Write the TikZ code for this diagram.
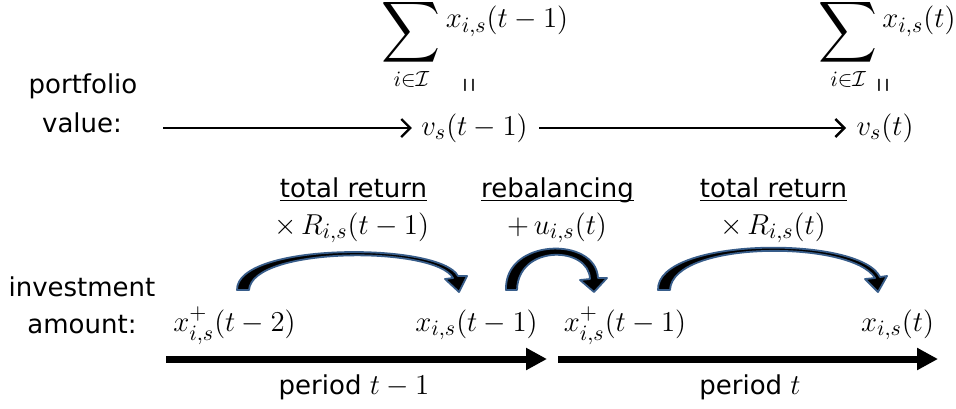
\documentclass[tikz,border=0pt]{standalone}
\usepackage{amsmath}
\usepackage{fontspec}
\newfontfamily\labelfont{DejaVu Sans}
\definecolor{arcedge}{RGB}{56,93,138}
\usetikzlibrary{arrows.meta}
\newcommand{\mathsize}{\fontsize{15.5}{18}\selectfont}
\newcommand{\ulabel}[1]{\underline{\smash{#1}}}
\newcommand{\bigsum}{\mathop{\vcenter{\hbox{\scalebox{1.42}[1.48]{$\displaystyle\sum$}}}}\limits}

\begin{document}
\begin{tikzpicture}[x=0.5pt, y=-0.5pt,
      txt/.style={
          font=\labelfont\fontsize{13}{15}\selectfont,
          inner sep=0pt,
          anchor=base
        },
      mth/.style={font=\mathsize, inner sep=0pt, anchor=base},
      eqsign/.style={font=\fontsize{15}{15}\selectfont, rotate=90, inner sep=0pt},
      valflow/.style={-{Straight Barb[length=4.5pt,width=9pt]}, line width=1.2pt},
      periodflow/.style={-{Triangle[length=10.5pt,width=10.5pt]}, line width=3.5pt},
      bendarrow/.style={fill=black, draw=arcedge, line width=0.9pt, line join=round}
    ]
    \useasboundingbox (0,0) rectangle (956,408);

    % portfolio value row
    \node[txt] (pf1) at (83,93) {portfolio};
    \node[txt] (pf2) at (82,132) {value:};
    \node[mth] (sum1) at (475,40) {$\displaystyle\bigsum_{i\in\mathcal{I}} \raisebox{6.1pt}{$x_{i,s}(t-1)$}$};
    \node[mth] (sum2) at (887,40) {$\displaystyle\bigsum_{i\in\mathcal{I}} \raisebox{6.1pt}{$x_{i,s}(t)$}$};
    \node[eqsign] (eq1) at (472,85) {\scalebox{0.65}[1.5]{$=$}};
    \node[eqsign] (eq2) at (886,85) {\scalebox{0.65}[1.5]{$=$}};
    \node[mth] (v1) at (474.5,135) {$v_s(t-1)$};
    \node[mth] (v2) at (885,135) {$v_s(t)$};
    \coordinate (vstart) at (163,128);
    \draw[valflow, shorten >=4.5pt] (vstart) -- (vstart -| v1.west);
    \draw[valflow, shorten <=5.5pt, shorten >=5pt] (v1.east |- vstart) -- (v2.west |- vstart);

    % step labels
    \node[txt] (tr1) at (353.5,197) {\ulabel{total return}};
    \node[txt] (rb) at (557.5,197) {\ulabel{rebalancing}};
    \node[txt] (tr2) at (773.5,197) {\ulabel{total return}};
    \node[mth] (R1) at (351.5,234) {$\times\,R_{i,s}(t-1)$};
    \node[mth] (u1) at (557,234) {$+\,u_{i,s}(t)$};
    \node[mth] (R2) at (773,234) {$\times\,R_{i,s}(t)$};

    % investment amount row
    \node[txt] (inv1) at (82,296) {investment};
    \node[txt] (inv2) at (82,333) {amount:};
    \node[mth] (xa) at (234.5,331) {$x^+_{i,s}(t-2)$};
    \node[mth] (xb) at (476.5,331) {$x_{i,s}(t-1)$};
    \node[mth] (xc) at (625,331) {$x^+_{i,s}(t-1)$};
    \node[mth] (xd) at (897.5,331) {$x_{i,s}(t)$};

    % curved block arrows
    \filldraw[bendarrow] (237,290) .. controls (236,242) and (440,242) .. (458,276)
      -- (467,276) -- (459,292) -- (445,279) -- (453,278)
      .. controls (436,246) and (252,246) .. (249,290) -- cycle;
    \filldraw[bendarrow] (506,290) .. controls (504,238) and (596,236) .. (598,278)
      -- (607,278) -- (594,292) -- (580,280) -- (590,279)
      .. controls (589,246) and (518,244) .. (517,290) -- cycle;
    \filldraw[bendarrow] (658,290) .. controls (656,237) and (860,235) .. (880,277)
      -- (887,276) -- (878,292) -- (865,279) -- (875,278)
      .. controls (852,240) and (672,240) .. (670,290) -- cycle;

    % periods
    \coordinate (p1s) at (166,359);
    \coordinate (p1e) at (547,359);
    \coordinate (p2s) at (558,359);
    \coordinate (p2e) at (938,359);
    \draw[periodflow] (p1s) -- (p1e);
    \draw[periodflow] (p2s) -- (p2e);
    \node[txt] (per1) at (354,394) {period {\mathsize$t-1$}};
    \node[txt] (per2) at (750,394) {period {\mathsize$t$}};
  \end{tikzpicture}
\end{document}
